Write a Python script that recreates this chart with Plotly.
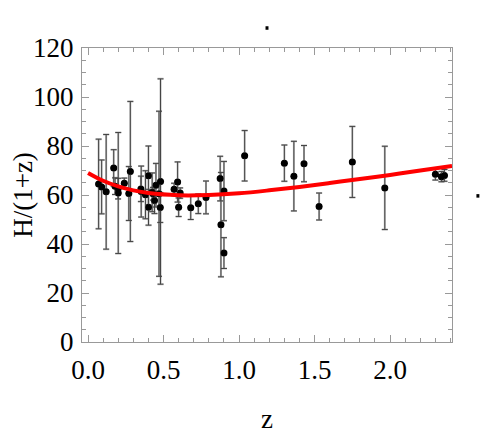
import plotly.graph_objects as go

z_obs = [0.07, 0.09, 0.12, 0.17, 0.179, 0.199, 0.20, 0.24, 0.27, 0.28,
         0.35, 0.352, 0.3802, 0.40, 0.4004, 0.4247, 0.43, 0.44, 0.4497, 0.47,
         0.4783, 0.48, 0.57, 0.593, 0.60, 0.61, 0.68, 0.73, 0.781, 0.875,
         0.88, 0.90, 0.90, 1.037, 1.30, 1.363, 1.43, 1.53, 1.75, 1.965,
         2.30, 2.34, 2.36]
h_obs = [64.5, 63.3, 61.3, 71.0, 63.6, 62.6, 60.8, 64.8, 60.6, 69.6,
         62.5, 61.4, 60.1, 67.9, 55.0, 61.1, 60.5, 57.8, 64.0, 60.5,
         54.9, 65.5, 62.3, 65.3, 55.0, 60.8, 54.8, 56.4, 59.0, 66.7,
         47.9, 61.6, 36.3, 76.0, 73.0, 67.7, 72.8, 55.3, 73.5, 62.9,
         68.5, 67.5, 68.0]
h_err = [18.3, 11.0, 23.4, 7.5, 3.4, 4.2, 24.7, 2.1, 11.0, 28.6,
         5.2, 10.4, 9.8, 12.1, 7.3, 7.9, 2.6, 5.4, 8.9, 33.7,
         6.1, 41.9, 2.5, 8.2, 3.8, 2.1, 4.8, 4.0, 6.7, 9.1,
         21.3, 12.1, 6.3, 10.3, 7.4, 14.2, 7.4, 5.5, 14.5, 17.0,
         2.4, 2.1, 2.4]

# Model curve values
z_model = [0.0, 0.1, 0.2, 0.3, 0.4, 0.6, 0.8, 1.0, 1.2, 1.4, 1.6, 1.8,
           2.0, 2.2, 2.41]
h_model = [69.0, 65.8, 63.5, 61.9, 60.8, 59.9, 60.0, 60.7, 61.9, 63.3,
           64.9, 66.5, 68.2, 70.0, 71.8]

x_ticks = [0.0, 0.5, 1.0, 1.5, 2.0]
x_tick_text = ["0.0", "0.5", "1.0", "1.5", "2.0"]
y_ticks = [0, 20, 40, 60, 80, 100, 120]

FONT = "Liberation Serif"
FS = 27

fig = go.Figure()

# light gray error bars (underlay)
fig.add_trace(go.Scatter(
    x=z_obs, y=h_obs, mode="markers",
    marker=dict(color="black", size=7),
    error_y=dict(type="data", array=h_err, visible=True,
                 color="rgba(170,170,170,0.8)", thickness=2, width=3),
    showlegend=False, hoverinfo="skip"))

# dark thin error bars
fig.add_trace(go.Scatter(
    x=z_obs, y=h_obs, mode="markers",
    marker=dict(color="black", size=6),
    error_y=dict(type="data", array=h_err, visible=True,
                 color="#444444", thickness=1, width=3),
    showlegend=False))

fig.add_trace(go.Scatter(
    x=z_model, y=h_model, mode="lines",
    line=dict(color="#ff0000", width=4, shape="spline"),
    showlegend=False))

axis_common = dict(
    showline=True, linecolor="#999999", linewidth=1, mirror="allticks",
    ticks="inside", ticklen=7, tickcolor="#999999", tickwidth=1,
    showgrid=False, zeroline=False, automargin=False,
    tickfont=dict(family=FONT, size=FS, color="black"),
)

fig.update_xaxes(
    range=[-0.04, 2.41], tickvals=x_ticks, ticktext=x_tick_text,
    minor=dict(ticks="inside", dtick=0.1, tick0=0, ticklen=4,
               tickcolor="#999999", showgrid=False),
    title=dict(text="z", font=dict(family=FONT, size=FS, color="black"),
               standoff=24),
    ticklabelstandoff=4,
    **axis_common)

fig.update_yaxes(
    range=[0, 120], tickvals=y_ticks,
    minor=dict(ticks="inside", dtick=5, tick0=0, ticklen=4,
               tickcolor="#999999", showgrid=False),
    title=dict(text="H/(1+z)", font=dict(family=FONT, size=FS, color="black"),
               standoff=6),
    ticklabelstandoff=2,
    **axis_common)

# small stray dots seen in the reference
for (px, py) in [(0.5, 1.068), (1.070, 0.497)]:
    fig.add_shape(type="rect", xref="paper", yref="paper",
                  x0=px - 0.004, x1=px + 0.004, y0=py - 0.006, y1=py + 0.006,
                  fillcolor="black", line=dict(width=0))

fig.update_layout(
    width=491, height=436,
    margin=dict(l=74, r=47, t=40, b=102, autoexpand=False),
    paper_bgcolor="white", plot_bgcolor="white",
    font=dict(family=FONT),
)

fig.write_html("out.html")
